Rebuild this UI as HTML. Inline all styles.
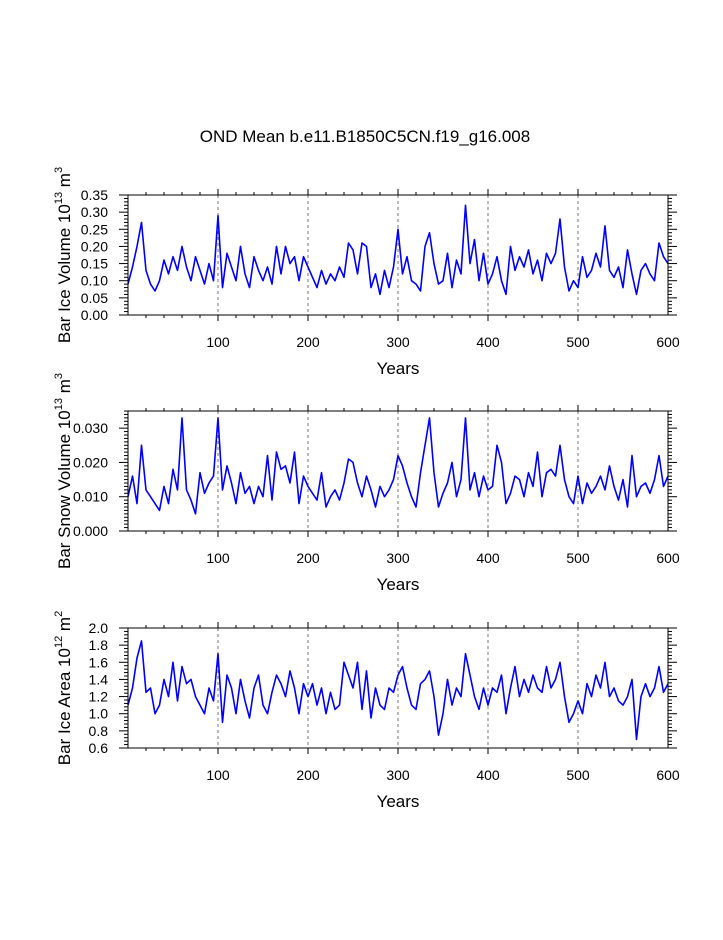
<!DOCTYPE html>
<html><head><meta charset="utf-8"><style>
html,body{margin:0;padding:0;background:#fff;}
svg text{font-family:"Liberation Sans",Arial,sans-serif;fill:#000;}
</style></head><body>
<svg id="chart" width="723" height="935" xmlns="http://www.w3.org/2000/svg">
<rect width="723" height="935" fill="#fff"/>
<text x="365" y="142" font-size="17" text-anchor="middle">OND Mean b.e11.B1850C5CN.f19_g16.008</text>
</svg>
<script>
const iceVolume = [0.09,0.14,0.20,0.27,0.13,0.09,0.07,0.10,0.16,0.12,0.17,0.13,0.20,0.14,0.10,0.17,0.13,0.09,0.15,0.10,0.29,0.08,0.18,0.14,0.10,0.20,0.12,0.08,0.17,0.13,0.10,0.14,0.09,0.20,0.12,0.20,0.15,0.17,0.10,0.17,0.14,0.11,0.08,0.13,0.09,0.12,0.10,0.14,0.11,0.21,0.19,0.12,0.21,0.20,0.08,0.12,0.06,0.13,0.08,0.14,0.25,0.12,0.17,0.10,0.09,0.07,0.20,0.24,0.15,0.09,0.10,0.18,0.08,0.16,0.12,0.32,0.15,0.22,0.10,0.18,0.09,0.12,0.17,0.10,0.06,0.20,0.13,0.17,0.14,0.19,0.12,0.16,0.10,0.18,0.15,0.18,0.28,0.14,0.07,0.10,0.08,0.17,0.11,0.13,0.18,0.14,0.26,0.13,0.11,0.14,0.08,0.19,0.12,0.06,0.13,0.15,0.12,0.10,0.21,0.17,0.15];
const snowVolume = [10,16,8,25,12,10,8,6,13,8,18,12,33,12,9,5,17,11,14,16,33,12,19,14,8,17,11,13,8,13,10,22,9,23,18,19,14,23,8,16,13,11,9,17,7,10,12,9,14,21,20,14,10,16,12,7,13,10,12,15,22,19,14,10,7,17,25,33,17,7,11,14,20,10,15,33,12,17,10,16,12,13,25,20,8,11,16,15,10,17,13,23,10,17,18,16,25,15,10,8,16,8,14,11,13,16,12,19,13,9,15,7,22,10,13,14,11,15,22,13,16];
const iceArea = [1.1,1.3,1.65,1.85,1.25,1.3,1.0,1.1,1.4,1.2,1.6,1.15,1.55,1.35,1.4,1.2,1.1,1.0,1.3,1.15,1.7,0.9,1.45,1.3,1.0,1.4,1.15,0.95,1.3,1.45,1.1,1.0,1.25,1.45,1.35,1.2,1.5,1.3,1.0,1.35,1.2,1.35,1.1,1.3,1.0,1.25,1.05,1.1,1.6,1.45,1.3,1.6,1.05,1.5,0.95,1.3,1.1,1.05,1.3,1.25,1.45,1.55,1.3,1.1,1.05,1.35,1.4,1.5,1.2,0.75,1.0,1.4,1.1,1.3,1.2,1.7,1.45,1.2,1.05,1.3,1.1,1.3,1.25,1.45,1.0,1.3,1.55,1.2,1.4,1.25,1.45,1.3,1.25,1.55,1.3,1.4,1.6,1.2,0.9,1.0,1.15,1.0,1.35,1.2,1.45,1.3,1.6,1.2,1.3,1.15,1.1,1.2,1.4,0.7,1.2,1.35,1.2,1.3,1.55,1.25,1.35];
const yearStep = 5;
const xTicks = [100,200,300,400,500,600];
const p1Ticks = ["0.00","0.05","0.10","0.15","0.20","0.25","0.30","0.35"];
const p2Ticks = ["0.000","0.010","0.020","0.030"];
const p3Ticks = ["0.6","0.8","1.0","1.2","1.4","1.6","1.8","2.0"];

const NS='http://www.w3.org/2000/svg';
const svg=document.getElementById('chart');
function mk(tag,attrs,parent){const e=document.createElementNS(NS,tag);for(const k in attrs)e.setAttribute(k,attrs[k]);(parent||svg).appendChild(e);return e;}
const X0=128,X1=668;
function xs(yr){return X0+(yr/600)*(X1-X0);}

function panel(cfg){
  const g=mk('g',{});
  
  
  const top=cfg.top,bot=cfg.top+120;
  const ys=v=>bot-(v-cfg.min)/(cfg.max-cfg.min)*120;
  xTicks.forEach(t=>{if(t<600){const l=mk('line',{x1:xs(t),x2:xs(t),y1:top,y2:bot,stroke:'#555','stroke-width':0.8,'stroke-dasharray':'3,3'},g);
    
    }});
  for(let t=20;t<600;t+=20){const L=(t%100===0)?6:3;
    mk('line',{x1:xs(t),x2:xs(t),y1:bot,y2:bot+L,stroke:'#000','stroke-width':1},g);
    mk('line',{x1:xs(t),x2:xs(t),y1:top,y2:top-L,stroke:'#000','stroke-width':1},g);}
  xTicks.forEach(t=>{const tx=mk('text',{x:xs(t),y:bot+32,'font-size':14,'text-anchor':'middle'},g);tx.textContent=t;
    
    });
  for(let v=cfg.min;v<=cfg.max+1e-9;v+=cfg.minor){
    const isMaj=Math.abs(Math.round((v-cfg.min)/cfg.major)*cfg.major-(v-cfg.min))<1e-9;
    const L=isMaj?9:4;
    mk('line',{x1:X0,x2:X0-L,y1:ys(v),y2:ys(v),stroke:'#000','stroke-width':1},g);
    mk('line',{x1:X1,x2:X1+L,y1:ys(v),y2:ys(v),stroke:'#000','stroke-width':1},g);}
  cfg.ticks.forEach((s,i)=>{const v=cfg.min+i*cfg.major;const tx=mk('text',{x:108,y:ys(v)+5,'font-size':14,'text-anchor':'end'},g);tx.textContent=s;
    
    });
  const pts=cfg.data.map((v,i)=>xs(i*yearStep).toFixed(1)+','+ys(v).toFixed(1)).join(' ');
  const pl=mk('polyline',{points:pts,fill:'none',stroke:'#0000ff','stroke-width':1.6,'stroke-linejoin':'round'},g);
  
  
  const fr=mk('rect',{x:X0,y:top,width:X1-X0,height:120,fill:'none',stroke:'#000','stroke-width':1},g);
  
  
  const xt=mk('text',{x:398,y:bot+59,'font-size':17,'text-anchor':'middle'},g);xt.textContent='Years';
  
  
  const yt=mk('text',{x:0,y:0,'font-size':17,'text-anchor':'middle',transform:'translate(70,'+(top+60)+') rotate(-90)'},g);
  yt.innerHTML=cfg.label;
  
  
}
panel({name:'ice-volume-panel',top:195,min:0,max:0.35,major:0.05,minor:0.01,ticks:p1Ticks,data:iceVolume,
  label:'Bar Ice Volume 10<tspan font-size="11" dy="-8">13</tspan><tspan dy="8"> m</tspan><tspan font-size="11" dy="-8">3</tspan>'});
panel({name:'snow-volume-panel',top:411,min:0,max:35,major:10,minor:1,ticks:p2Ticks,data:snowVolume,
  label:'Bar Snow Volume 10<tspan font-size="11" dy="-8">13</tspan><tspan dy="8"> m</tspan><tspan font-size="11" dy="-8">3</tspan>'});
panel({name:'ice-area-panel',top:628,min:0.6,max:2.0,major:0.2,minor:0.04,ticks:p3Ticks,data:iceArea,
  label:'Bar Ice Area 10<tspan font-size="11" dy="-8">12</tspan><tspan dy="8"> m</tspan><tspan font-size="11" dy="-8">2</tspan>'});
</script>
</body></html>
